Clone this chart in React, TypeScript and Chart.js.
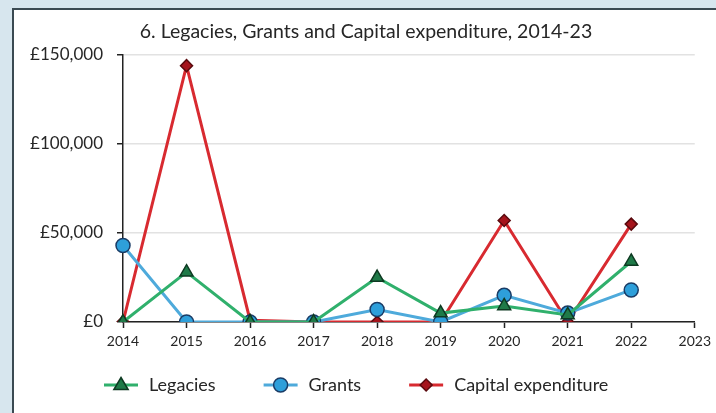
import React, { useEffect, useRef } from "react";
import { Chart, registerables } from "chart.js";

Chart.register(...registerables);

const years = ["2014", "2015", "2016", "2017", "2018", "2019", "2020", "2021", "2022", "2023"];
const legacies = [0, 28000, 0, 0, 25000, 5000, 9000, 4000, 34000, null];
const grants = [43000, 0, 0, 0, 7000, 0, 15000, 5000, 18000, null];
const capitalExpenditure = [0, 144000, 1000, 0, 0, 0, 57000, 0, 55000, null];
const yTicks = [0, 50000, 100000, 150000];
const titleText = "6. Legacies, Grants and Capital expenditure, 2014-23";

const FONT = "Lato, 'DejaVu Sans', sans-serif";

const seriesStyles = [
  { label: "Legacies", line: "#30b06c", fill: "#1f7a48", border: "#0e3a22", point: "triangle", radius: 7.5 },
  { label: "Grants", line: "#4eaadb", fill: "#2e9fda", border: "#1a3c66", point: "circle", radius: 7 },
  { label: "Capital expenditure", line: "#d82a30", fill: "#a5141c", border: "#5a0a0e", point: "rectRot", radius: 6 },
];

function drawPoint(ctx: CanvasRenderingContext2D, style: string, r: number, cx: number, cy: number) {
  ctx.beginPath();
  if (style === "circle") {
    ctx.arc(cx, cy, r, 0, Math.PI * 2);
  } else if (style === "triangle") {
    ctx.moveTo(cx, cy - r);
    ctx.lineTo(cx + r * 0.95, cy + r * 0.6);
    ctx.lineTo(cx - r * 0.95, cy + r * 0.6);
    ctx.closePath();
  } else {
    ctx.moveTo(cx, cy - r);
    ctx.lineTo(cx + r, cy);
    ctx.lineTo(cx, cy + r);
    ctx.lineTo(cx - r, cy);
    ctx.closePath();
  }
  ctx.fill();
  ctx.stroke();
}

const titlePlugin = {
  id: "customTitle",
  afterDraw(chart: any) {
    const ctx = chart.ctx;
    ctx.save();
    ctx.font = `19.5px ${FONT}`;
    ctx.fillStyle = "#262626";
    ctx.textAlign = "center";
    ctx.textBaseline = "middle";
    ctx.fillText(titleText, 366, 32);
    ctx.restore();
  },
};

const legendPlugin = {
  id: "customLegend",
  afterDraw(chart: any) {
    const ctx = chart.ctx;
    const y = 385;
    let x = 104;
    ctx.save();
    ctx.font = `18px ${FONT}`;
    chart.data.datasets.forEach((ds: any) => {
      ctx.strokeStyle = ds.borderColor;
      ctx.lineWidth = 3;
      ctx.beginPath();
      ctx.moveTo(x, y);
      ctx.lineTo(x + 34, y);
      ctx.stroke();
      ctx.fillStyle = ds.pointBackgroundColor;
      ctx.strokeStyle = ds.pointBorderColor;
      ctx.lineWidth = 1.5;
      drawPoint(ctx, ds.pointStyle, ds.pointRadius, x + 17, y);
      ctx.fillStyle = "#262626";
      ctx.textAlign = "left";
      ctx.textBaseline = "middle";
      ctx.fillText(ds.label, x + 45, y);
      x = x + 45 + ctx.measureText(ds.label).width + 48;
    });
    ctx.restore();
  },
};

export default function App() {
  const canvasRef = useRef<HTMLCanvasElement | null>(null);

  useEffect(() => {
    if (!canvasRef.current) return;
    const seriesValues = [legacies, grants, capitalExpenditure];
    const chart = new Chart(canvasRef.current, {
      type: "line",
      data: {
        labels: years,
        datasets: seriesStyles.map((s, i) => ({
          label: s.label,
          data: seriesValues[i],
          borderColor: s.line,
          backgroundColor: s.fill,
          borderWidth: 3,
          pointStyle: s.point,
          pointRadius: s.radius,
          pointBackgroundColor: s.fill,
          pointBorderColor: s.border,
          pointBorderWidth: 1.5,
          tension: 0,
          fill: false,
        })),
      },
      options: {
        responsive: false,
        animation: false,
        devicePixelRatio: 1,
        layout: { padding: { top: 55, right: 17, bottom: 61, left: 0 } },
        plugins: {
          legend: { display: false },
          title: { display: false },
          tooltip: { enabled: false },
        },
        scales: {
          x: {
            type: "category",
            offset: false,
            grid: {
              drawOnChartArea: false,
              drawTicks: true,
              tickLength: 6,
              tickColor: "#222",
              tickWidth: 1.5,
            },
            border: { color: "#222", width: 1.5 },
            ticks: {
              color: "#262626",
              font: { family: FONT, size: 14 },
              padding: 5,
              maxRotation: 0,
              autoSkip: false,
            },
            afterFit(scale: any) {
              scale.height = 30;
            },
          },
          y: {
            min: 0,
            max: 150000,
            afterBuildTicks(scale: any) {
              scale.ticks = yTicks.map((v) => ({ value: v }));
            },
            grid: {
              color: "#e2e2e2",
              lineWidth: 1.5,
              tickLength: 6,
              tickColor: "#222",
              tickWidth: 1.5,
            },
            border: { color: "#222", width: 1.5 },
            ticks: {
              color: "#262626",
              font: { family: FONT, size: 17 },
              padding: 14,
              callback: (v: any) => "£" + Number(v).toLocaleString("en-GB"),
            },
            afterFit(scale: any) {
              scale.width = 123;
            },
          },
        },
      },
      plugins: [titlePlugin, legendPlugin],
    });
    return () => chart.destroy();
  }, []);

  return (
    <div
      style={{
        position: "fixed",
        left: 0,
        top: 0,
        width: 716,
        height: 413,
        background: "#d7e6ee",
        overflow: "hidden",
      }}
    >
      <div
        style={{
          position: "absolute",
          left: 12,
          top: 8,
          width: 720,
          height: 420,
          background: "#ffffff",
          border: "2px solid #3b4a52",
          boxSizing: "border-box",
        }}
      />
      <canvas
        ref={canvasRef}
        width={716}
        height={413}
        style={{ position: "absolute", left: 0, top: 0, width: 716, height: 413 }}
      />
    </div>
  );
}
